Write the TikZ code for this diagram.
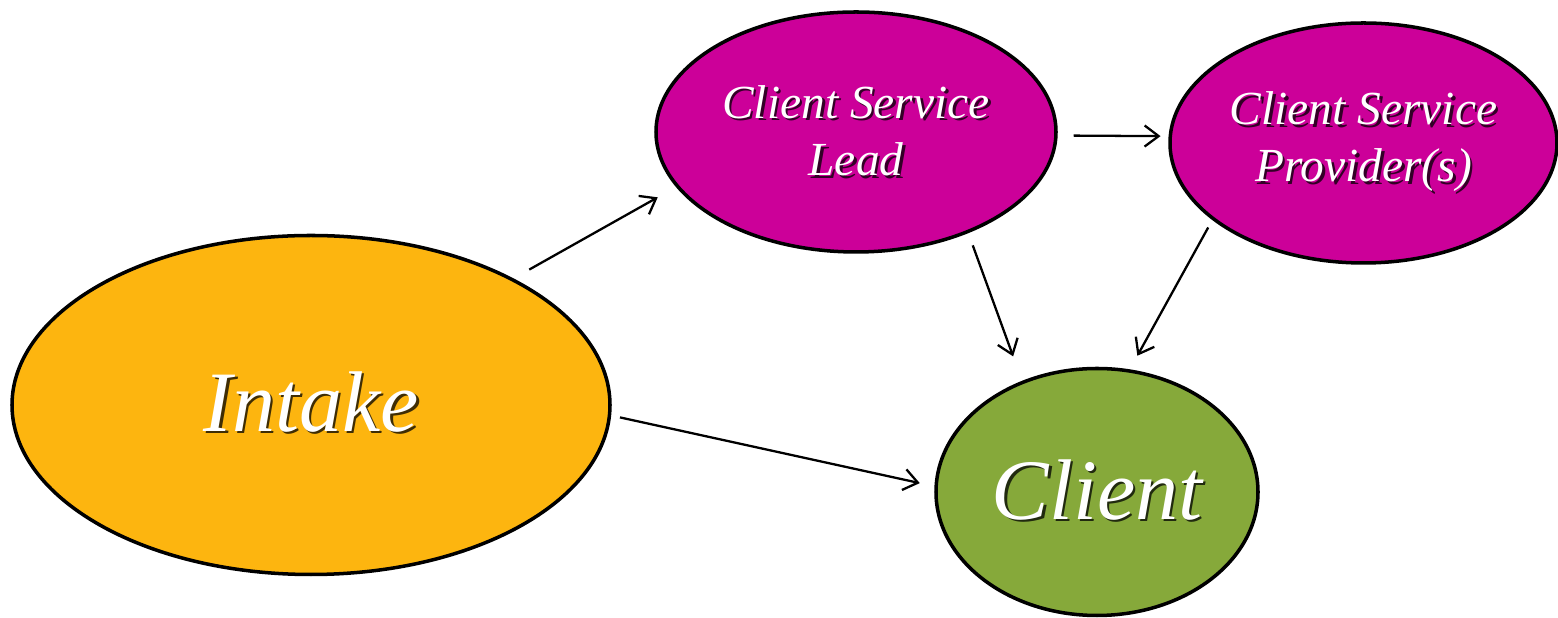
\documentclass[tikz,border=0pt]{standalone}
\usepackage{fontspec}
\setmainfont{Liberation Serif}
\usepackage{tikz,xcolor}
\usetikzlibrary{arrows.meta,shapes.geometric}
\definecolor{intk}{HTML}{FDB50F}
\definecolor{csv}{HTML}{CC0099}
\definecolor{clnt}{HTML}{86A93A}
% white text with a dark drop shadow underneath
\newcommand{\shd}[2]{\makebox[0pt][l]{\hspace*{1.5pt}\raisebox{-1.5pt}{\textcolor{#1!25!black}{#2}}}#2}
\tikzset{
  oval/.style={ellipse,draw=black,line width=2pt,inner sep=0pt,text=white,align=center,font=\itshape},
  big/.style={oval,font=\itshape\fontsize{49}{56}\selectfont},
  small/.style={oval,font=\itshape\fontsize{27}{32.5}\selectfont},
  ar/.style={-{Straight Barb[length=8pt,width=12pt]},line width=1.3pt},
}

\begin{document}
\begin{tikzpicture}
\useasboundingbox (0,0) rectangle (31.16,12.36);
\node[big,fill=intk,minimum width=11.96cm,minimum height=6.78cm] (intake) at (6.22,4.26) {\raisebox{4pt}{\shd{intk}{Intake}}};
\node[small,fill=csv,minimum width=8.0cm,minimum height=4.8cm] (lead) at (17.12,9.72) {\shd{csv}{Client Service}\\\shd{csv}{Lead}};
\node[small,fill=csv,minimum width=7.74cm,minimum height=4.8cm] (prov) at (27.27,9.50) {\shd{csv}{Client Service}\\\shd{csv}{Provider(s)}};
\node[big,fill=clnt,minimum width=6.44cm,minimum height=4.94cm] (client) at (21.94,2.52) {\raisebox{3pt}{\shd{clnt}{Client}}};
\draw[ar,shorten <=0.36cm,shorten >=0.42cm] (intake.32.2) -- (lead.197.2);
\draw[ar,shorten <=0.18cm,shorten >=0.30cm] (intake.-2.1) -- (client.178.7);
\draw[ar,shorten <=0.32cm,shorten >=0.16cm] (lead.-1) -- (prov.178.3);
\draw[ar,shorten <=0.26cm,shorten >=0.52cm] (lead.-42.9) -- (client.124.6);
\draw[ar,shorten <=0.17cm,shorten >=0.31cm] (prov.207.8) -- (client.75.2);
\end{tikzpicture}
\end{document}
